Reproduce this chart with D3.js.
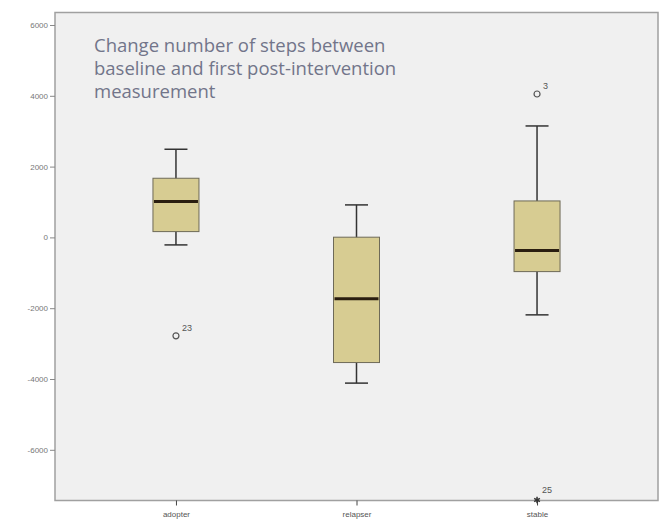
<!DOCTYPE html>
<html>
<head>
<meta charset="UTF-8">
<title>Change in steps box plot</title>
<script src="https://cdn.jsdelivr.net/npm/d3@7"></script>
<style>
  body { margin: 0; background: #fff; }
  svg { display: block; }
</style>
</head>
<body>
<div id="chart"></div>
<script>
// groups and box statistics (steps)
var categories  = ["adopter", "relapser", "stable"];
var whiskerLow  = [-212, -4116, -2188];
var q1          = [164, -3535, -966];
var medians     = [1011, -1736, -373];
var q3          = [1671, 6, 1030];
var whiskerHigh = [2490, 918, 3148];

// outliers: circle = outlier, star = extreme
var outlierGroups = ["adopter", "stable", "stable"];
var outlierValues = [-2781, 4051, -7420];
var outlierIds    = ["23", "3", "25"];
var outlierKinds  = ["circle", "circle", "star"];

var yTicks = [-6000, -4000, -2000, 0, 2000, 4000, 6000];
var titleLines = ["Change number of steps between",
                  "baseline and first post-intervention",
                  "measurement"];

var W = 660, H = 520;
var plotL = 55, plotT = 12.5, plotR = 658, plotB = 500.5;

var svg = d3.select("#chart").append("svg")
    .attr("width", W)
    .attr("height", H);

var x = d3.scalePoint()
    .domain(categories)
    .range([plotL, plotR])
    .padding(0.67);

var y = d3.scaleLinear()
    .domain([-7432, 6353])
    .range([plotB, plotT]);

// plot background + frame
svg.append("rect")
    .attr("x", plotL).attr("y", plotT)
    .attr("width", plotR - plotL).attr("height", plotB - plotT)
    .attr("fill", "#f0f0f0")
    .attr("stroke", "#a0a0a0")
    .attr("stroke-width", 1.5);

// y axis
var yAxis = svg.append("g")
    .attr("transform", "translate(" + plotL + ",0)")
    .call(d3.axisLeft(y).tickValues(yTicks).tickSize(5).tickPadding(2)
      .tickFormat(function(d) { return String(d); }));
yAxis.select(".domain").remove();
yAxis.selectAll(".tick line").attr("stroke", "#888");
yAxis.selectAll(".tick text")
    .attr("fill", "#777")
    .style("font-family", "Liberation Sans, Arial, sans-serif")
    .style("font-size", "8px");

// x axis
var xAxis = svg.append("g")
    .attr("transform", "translate(0," + plotB + ")")
    .call(d3.axisBottom(x).tickSize(5).tickPadding(6));
xAxis.select(".domain").remove();
xAxis.selectAll(".tick line").attr("stroke", "#444");
xAxis.selectAll(".tick text")
    .attr("fill", "#555")
    .style("font-family", "Liberation Sans, Arial, sans-serif")
    .style("font-size", "8px");

// title inside plot
svg.append("text")
    .attr("x", 94)
    .attr("y", 52)
    .attr("fill", "#72758a")
    .style("font-family", "Open Sans, sans-serif")
    .style("font-size", "18.5px")
    .selectAll("tspan")
    .data(titleLines)
    .join("tspan")
    .attr("x", 94)
    .attr("dy", function(d, i) { return i === 0 ? 0 : 23; })
    .text(function(d) { return d; });

var boxW = 46, capW = 23;
var boxes = svg.append("g").selectAll("g")
    .data(categories)
    .join("g");

// whiskers
boxes.append("line")
    .attr("x1", function(d) { return x(d); })
    .attr("x2", function(d) { return x(d); })
    .attr("y1", function(d, i) { return y(whiskerLow[i]); })
    .attr("y2", function(d, i) { return y(whiskerHigh[i]); })
    .attr("stroke", "#333").attr("stroke-width", 1.5);

[whiskerLow, whiskerHigh].forEach(function(arr) {
  boxes.append("line")
      .attr("x1", function(d) { return x(d) - capW / 2; })
      .attr("x2", function(d) { return x(d) + capW / 2; })
      .attr("y1", function(d, i) { return y(arr[i]); })
      .attr("y2", function(d, i) { return y(arr[i]); })
      .attr("stroke", "#333").attr("stroke-width", 1.5);
});

// boxes
boxes.append("rect")
    .attr("x", function(d) { return x(d) - boxW / 2; })
    .attr("y", function(d, i) { return y(q3[i]); })
    .attr("width", boxW)
    .attr("height", function(d, i) { return y(q1[i]) - y(q3[i]); })
    .attr("fill", "#d7cc92")
    .attr("stroke", "#6e6a58")
    .attr("stroke-width", 1);

// medians
boxes.append("line")
    .attr("x1", function(d) { return x(d) - boxW / 2 + 1; })
    .attr("x2", function(d) { return x(d) + boxW / 2 - 1; })
    .attr("y1", function(d, i) { return y(medians[i]); })
    .attr("y2", function(d, i) { return y(medians[i]); })
    .attr("stroke", "#2a1e10").attr("stroke-width", 3);

// outliers
var outs = svg.append("g").selectAll("g")
    .data(outlierValues)
    .join("g")
    .attr("transform", function(d, i) { return "translate(" + x(outlierGroups[i]) + "," + y(d) + ")"; });

outs.filter(function(d, i) { return outlierKinds[i] === "circle"; })
    .append("circle")
    .attr("r", 3)
    .attr("fill", "none")
    .attr("stroke", "#555")
    .attr("stroke-width", 1.2);

outs.filter(function(d, i) { return outlierKinds[i] === "star"; })
    .append("path")
    .attr("d", d3.symbol(d3.symbolAsterisk, 30))
    .attr("stroke", "#333")
    .attr("stroke-width", 1.5);

outs.append("text")
    .attr("x", function(d, i) { return outlierKinds[i] === "star" ? 5 : 6; })
    .attr("y", function(d, i) { return outlierKinds[i] === "star" ? -7 : -5; })
    .attr("fill", "#555")
    .style("font-family", "Liberation Sans, Arial, sans-serif")
    .style("font-size", "9px")
    .text(function(d, i) { return outlierIds[i]; });
</script>
</body>
</html>
